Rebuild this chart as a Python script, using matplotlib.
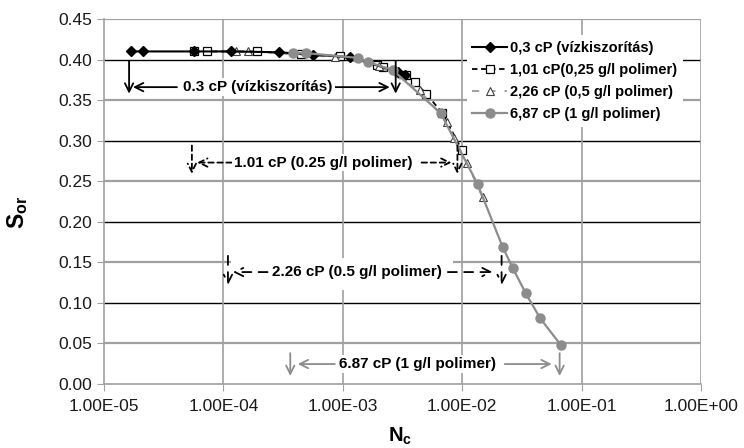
import numpy as np
import matplotlib
matplotlib.use("Agg")
import matplotlib.pyplot as plt
from matplotlib.patches import Rectangle
from matplotlib.ticker import FixedLocator, FuncFormatter, NullLocator

plt.rcParams["font.family"] = ["Liberation Sans", "DejaVu Sans"]
plt.rcParams["mathtext.fontset"] = "custom"
plt.rcParams["mathtext.rm"] = "Liberation Sans"
plt.rcParams["mathtext.bf"] = "Liberation Sans:bold"

# --- data ---
labels = [
    "0,3 cP (vízkiszorítás)",
    "1,01 cP(0,25 g/l polimer)",
    "2,26 cP (0,5 g/l polimer)",
    "6,87 cP (1 g/l polimer)",
]

nc_water = [1.68e-5, 2.12e-5, 5.66e-5, 1.16e-4, 2.91e-4, 5.6e-4, 1.15e-3, 2.88e-3, 3.3e-3]
sor_water = [0.410, 0.410, 0.410, 0.410, 0.409, 0.406, 0.403, 0.385, 0.381]

nc_p025 = [5.66e-5, 7.3e-5, 1.9e-4, 4.5e-4, 9.4e-4, 1.92e-3, 2.16e-3, 3.4e-3, 4.0e-3,
           5.0e-3, 6.8e-3, 1.0e-2]
sor_p025 = [0.410, 0.410, 0.410, 0.407, 0.404, 0.393, 0.391, 0.381, 0.372, 0.358,
            0.334, 0.288]

nc_p05 = [1.27e-4, 1.6e-4, 8.6e-4, 2.0e-3, 4.4e-3, 7.4e-3, 8.6e-3, 1.1e-2, 1.48e-2]
sor_p05 = [0.410, 0.410, 0.403, 0.392, 0.362, 0.323, 0.303, 0.272, 0.230]

nc_p1 = [3.82e-4, 4.9e-4, 1.34e-3, 1.62e-3, 2.62e-3, 6.6e-3, 1.35e-2, 2.18e-2, 2.65e-2,
         3.4e-2, 4.5e-2, 6.7e-2]
sor_p1 = [0.408, 0.408, 0.402, 0.397, 0.387, 0.334, 0.246, 0.169, 0.143, 0.112, 0.081,
          0.048]

x_ticks = [1e-5, 1e-4, 1e-3, 1e-2, 1e-1, 1e0]
y_ticks = [0.00, 0.05, 0.10, 0.15, 0.20, 0.25, 0.30, 0.35, 0.40, 0.45]

GRAY = "#8c8c8c"

fig = plt.figure(figsize=(7.44, 4.48), dpi=100)
ax = fig.add_axes([104 / 744, 64 / 448, 597 / 744, 365 / 448])

ax.set_xscale("log")
ax.set_xlim(1e-5, 1e0)
ax.set_ylim(0, 0.45)

# gridlines (horizontal ones alternate gray / black like the original)
for i, yv in enumerate(y_ticks[1:]):
    if i % 2 == 0:
        ax.axhline(yv, color="#a0a0a0", lw=1.6, zorder=0)
    else:
        ax.axhline(yv, color="black", lw=1.0, zorder=0)
for xv in x_ticks[1:]:
    ax.axvline(xv, color="#a0a0a0", lw=1.2, zorder=0)

# series
ax.plot(nc_water, sor_water, color="black", lw=1.5, marker="D", ms=5,
        mfc="black", mec="black", zorder=4, label=labels[0])
ax.plot(nc_p025, sor_p025, color="black", lw=1.3, ls=(0, (3, 2)), marker="s", ms=6,
        mfc="white", mec="black", mew=0.9, zorder=3, label=labels[1])
ax.plot(nc_p05, sor_p05, color="#9a9a9a", lw=1.3, ls=(0, (4, 5)), marker="^", ms=6,
        mfc="white", mec="#404040", mew=0.8, zorder=3, label=labels[2])
ax.plot(nc_p1, sor_p1, color=GRAY, lw=1.6, marker="o", ms=6.5,
        mfc=GRAY, mec=GRAY, zorder=5, label=labels[3])

# white patch behind the 2.26 cP annotation
ax.add_patch(Rectangle((10 ** -3.94, 0.116), 10 ** -2.08 - 10 ** -3.94, 0.039,
                       facecolor="white", edgecolor="none", zorder=1))


def arrow(head, tail, color, ls="-"):
    ax.annotate("", xy=head, xytext=tail, zorder=6,
                arrowprops=dict(arrowstyle="->,head_length=0.6,head_width=0.3",
                                color=color, lw=1.3, linestyle=ls,
                                shrinkA=0, shrinkB=0))


def bracket(x_left, x_right, y_txt, y_top, y_bot, text, x_text, tails, color, ls):
    arrow((x_left, y_bot), (x_left, y_top), color, ls)
    arrow((x_right, y_bot), (x_right, y_top), color, ls)
    arrow((tails[0], y_txt), (tails[1], y_txt), color, ls)
    arrow((tails[3], y_txt), (tails[2], y_txt), color, ls)
    ax.text(x_text, y_txt, text, ha="center", va="center", fontsize=11,
            fontweight="bold", color="black", zorder=7,
            bbox=dict(boxstyle="square,pad=0.12", fc="white", ec="none"))


bracket(10 ** -4.79, 10 ** -2.557, 0.366, 0.398, 0.358, "0.3 cP (vízkiszorítás)",
        10 ** -3.71, [10 ** -4.757, 10 ** -4.389, 10 ** -3.067, 10 ** -2.607],
        "black", "-")
bracket(10 ** -4.264, 10 ** -2.04, 0.273, 0.294, 0.259, "1.01 cP (0.25 g/l polimer)",
        10 ** -3.167, [10 ** -4.22, 10 ** -3.93, 10 ** -2.34, 10 ** -2.09],
        "black", (0, (3, 2)))
bracket(10 ** -3.962, 10 ** -1.67, 0.138, 0.158, 0.122, "2.26 cP (0.5 g/l polimer)",
        10 ** -2.883, [10 ** -3.92, 10 ** -3.63, 10 ** -2.12, 10 ** -1.745],
        "black", (0, (5, 4)))
bracket(10 ** -3.44, 10 ** -1.184, 0.0246, 0.038, 0.010, "6.87 cP (1 g/l polimer)",
        10 ** -2.372, [10 ** -3.377, 10 ** -3.067, 10 ** -1.644, 10 ** -1.251],
        GRAY, "-")

# axes cosmetics
for side in ["top", "right"]:
    ax.spines[side].set_visible(False)
for side in ["left", "bottom"]:
    ax.spines[side].set_color("#a0a0a0")
    ax.spines[side].set_linewidth(1.2)

ax.xaxis.set_major_locator(FixedLocator(x_ticks))
ax.xaxis.set_minor_locator(NullLocator())
ax.xaxis.set_major_formatter(FuncFormatter(lambda v, p: f"{v:.2E}"))
ax.set_yticks(y_ticks)
ax.yaxis.set_major_formatter(FuncFormatter(lambda v, p: f"{v:.2f}"))
ax.tick_params(axis="both", direction="out", length=5, color="#a0a0a0",
               labelsize=12.5, labelcolor="#1a1a1a")
ax.tick_params(axis="x", pad=6)

fig.text(18 / 744, 1 - 212 / 448, r"$\mathbf{S_{or}}$", rotation=90, fontsize=16.5,
         ha="center", va="center")
fig.text(400 / 744, 1 - 436 / 448, r"$\mathbf{N_{c}}$", fontsize=14.5,
         ha="center", va="center")

leg = ax.legend(loc="upper left", bbox_to_anchor=(0.595, 0.975), frameon=True,
                fancybox=False, framealpha=1, edgecolor="none", facecolor="white",
                prop={"weight": "bold", "size": 10.5}, handlelength=2.4,
                handletextpad=0.2, labelspacing=0.55, borderpad=0.4)
leg.set_zorder(8)

fig.savefig("out.png", dpi=100)
